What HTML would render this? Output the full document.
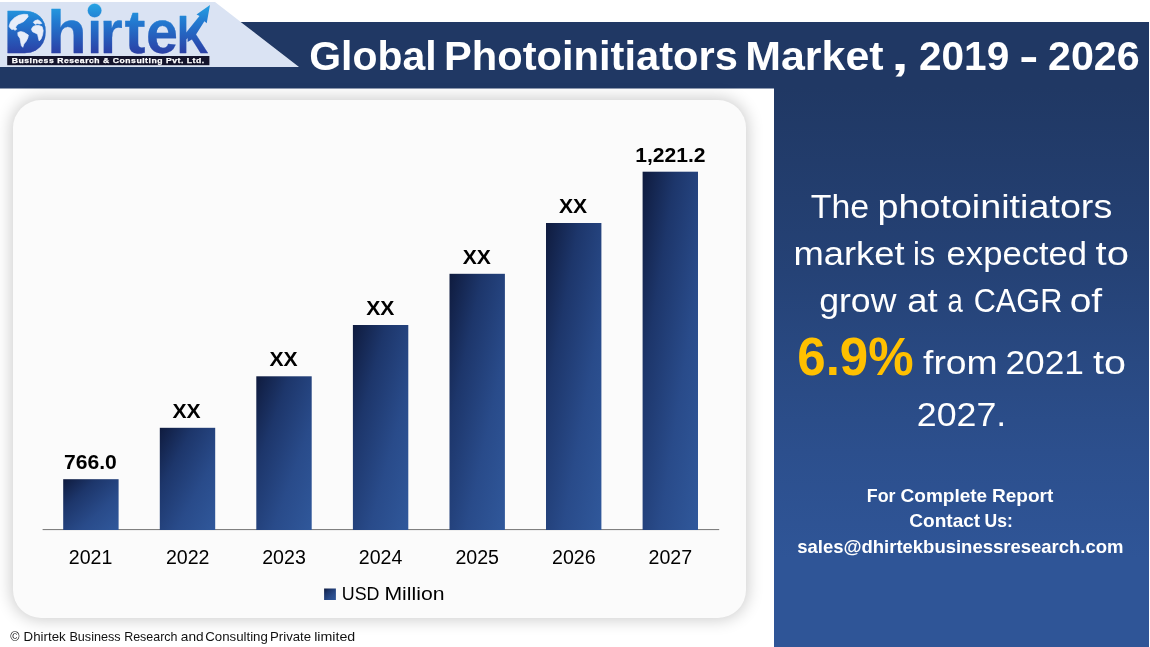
<!DOCTYPE html>
<html lang="en">
<head>
<meta charset="utf-8">
<title>Global Photoinitiators Market, 2019 - 2026</title>
<style>
  html, body { margin: 0; padding: 0; }
  body {
    width: 1150px; height: 647px; position: relative; overflow: hidden;
    background: #ffffff;
    font-family: "Liberation Sans", sans-serif;
  }
  .abs { position: absolute; }
  #lav {
    left: 0; top: 2px; width: 300px; height: 65px; background: #dae3f3;
    clip-path: polygon(0 0, 215px 0, 299px 65px, 0 65px);
  }
  #navy {
    left: 0; top: 21.5px; width: 1149px; height: 67px; background: #203864;
    clip-path: polygon(240px 0, 1149px 0, 1149px 67px, 0 67px, 0 45.5px, 299px 45.5px);
  }
  #side {
    left: 774px; top: 88px; width: 375px; height: 559px;
    background: linear-gradient(180deg, #203864 0%, #254276 33%, #294982 49%, #2c4f8d 65%, #2f5597 84%, #2f5597 100%);
  }
  #panel {
    left: 12.5px; top: 100px; width: 733px; height: 518px;
    background: #fbfbfb; border-radius: 28px;
    box-shadow: 0 0 16px 2px rgba(0,0,0,0.2);
  }
  svg { position: absolute; left: 0; top: 0; }
  text { font-family: "Liberation Sans", sans-serif; }
  .b { font-weight: bold; }
</style>
</head>
<body>
<div id="lav" class="abs"></div>
<div id="navy" class="abs"></div>
<div id="side" class="abs"></div>
<div id="panel" class="abs"></div>

<svg width="1150" height="647" viewBox="0 0 1150 647">
  <defs>
    <linearGradient id="barg" x1="0" y1="0" x2="1" y2="1">
      <stop offset="0" stop-color="#0f1b3e"/>
      <stop offset="0.3" stop-color="#1d366b"/>
      <stop offset="0.65" stop-color="#294b8a"/>
      <stop offset="1" stop-color="#30589b"/>
    </linearGradient>

    <linearGradient id="lg" gradientUnits="userSpaceOnUse" x1="0" y1="5" x2="0" y2="54">
      <stop offset="0" stop-color="#25a0e2"/>
      <stop offset="0.35" stop-color="#2279d0"/>
      <stop offset="1" stop-color="#2b3ea4"/>
    </linearGradient>
  </defs>
  <g id="logo" fill="url(#lg)" stroke="url(#lg)" stroke-width="0.3" stroke-linejoin="round">
    <text class="b" y="52.9" font-size="62"><tspan x="3.6" textLength="44.7" lengthAdjust="spacingAndGlyphs">D</tspan><tspan x="46.9" textLength="39.8" lengthAdjust="spacingAndGlyphs">h</tspan><tspan x="87.2" textLength="14.9" lengthAdjust="spacingAndGlyphs">i</tspan><tspan x="99.7" textLength="23" lengthAdjust="spacingAndGlyphs">r</tspan><tspan x="124.4" textLength="21" lengthAdjust="spacingAndGlyphs">t</tspan><tspan x="146.1" textLength="32" lengthAdjust="spacingAndGlyphs">e</tspan><tspan x="177" textLength="31.3" font-size="54" lengthAdjust="spacingAndGlyphs">K</tspan></text>
    <path d="M13,15 H26 A14,16.5 0 0 1 26,48 H13 Z" stroke="none"/>
    <rect x="88.5" y="5" width="12.5" height="13.5" fill="#dae3f3" stroke="#dae3f3"/>
    <circle cx="94.6" cy="10.5" r="6.8"/>
    <polygon points="210,5 196.5,14.5 200.6,16.4 187.6,33 187.6,42 193.5,38.5 204.4,21.2 206.7,23.2" stroke="none"/>
  </g>
  <g id="globe" fill="#e8edf9" stroke="#e8edf9" stroke-width="0.7" stroke-linejoin="round">
    <polygon points="9.1,26.2 10.6,21.7 14.5,17.8 18.9,15.3 23.9,14.3 27.6,14.5 28.1,16.7 26.2,18.9 23.9,21.4 21.2,22.8 18.4,23.9 16.7,25.4 15.6,27.3 16.7,29.2 15,30.3 13.4,29.2 11.7,29.5 10,27.8"/>
    <polygon points="17.8,32.5 20.6,31.5 23.9,32.3 28.4,35.1 27.8,37.9 26.2,41.2 23.9,44 22.8,47.3 21.4,45.7 20.6,41.8 20,38.4 18,35.4"/>
    <polygon points="33.2,22.3 35.1,20.6 37.9,19.8 40.1,21.2 41.8,23.4 39.5,23.9 37.3,23.6 35.1,24.3"/>
    <polygon points="31.4,29.2 32.9,26.7 35.6,25.4 39,25.6 42.1,26.7 43.2,30.6 42.5,35.1 41,39 39.2,41 38.4,37.9 37.6,34.3 35.1,32.9 32.5,31.7"/>
  </g>
  <rect x="7.2" y="56" width="202.2" height="9.2" fill="#14142c"/>
  <text class="b" x="11.7" y="63.1" font-size="7.2" fill="#ffffff" stroke="#ffffff" stroke-width="0.25" letter-spacing="0.45" textLength="193" lengthAdjust="spacingAndGlyphs">Business Research &amp; Consulting Pvt. Ltd.</text>

  <!-- header title -->
  <text class="b" y="69.6" font-size="41" fill="#ffffff" lengthAdjust="spacingAndGlyphs"><tspan x="309.3" textLength="127.3" lengthAdjust="spacingAndGlyphs">Global</tspan> <tspan x="444" textLength="293.8" lengthAdjust="spacingAndGlyphs">Photoinitiators</tspan> <tspan x="745.2" textLength="138.4" lengthAdjust="spacingAndGlyphs">Market</tspan> <tspan x="891.2" textLength="17.5" lengthAdjust="spacingAndGlyphs">,</tspan> <tspan x="919" textLength="90.2" lengthAdjust="spacingAndGlyphs">2019</tspan> <tspan x="1019.2" textLength="19.1" lengthAdjust="spacingAndGlyphs">-</tspan> <tspan x="1048" textLength="91.7" lengthAdjust="spacingAndGlyphs">2026</tspan></text>

  <!-- chart bars -->
  <rect x="42.6" y="529" width="676.6" height="1.1" fill="#808080"/>
  <g id="bars" fill="url(#barg)">
    <rect x="63.2" y="479.2" width="55.4" height="50.8"/>
    <rect x="159.8" y="427.8" width="55.4" height="102.2"/>
    <rect x="256.3" y="376.3" width="55.4" height="153.7"/>
    <rect x="352.9" y="325.0" width="55.4" height="205.0"/>
    <rect x="449.5" y="273.8" width="55.4" height="256.2"/>
    <rect x="546.0" y="223.0" width="55.4" height="307.0"/>
    <rect x="642.6" y="171.7" width="55.4" height="358.3"/>
  </g>

  <!-- bar value labels -->
  <g class="b" font-size="21.1" fill="#000000" text-anchor="middle">
    <text x="90.4"  y="468.7">766.0</text>
    <text x="186.6" y="418">XX</text>
    <text x="283.6" y="366">XX</text>
    <text x="380.2" y="314.8">XX</text>
    <text x="476.8" y="263.6">XX</text>
    <text x="573.1" y="213">XX</text>
    <text x="670.4" y="161.6">1,221.2</text>
  </g>

  <!-- year labels -->
  <g font-size="19.6" fill="#000000" text-anchor="middle">
    <text x="90.6"  y="564.2">2021</text>
    <text x="187.7" y="564.2">2022</text>
    <text x="284.0" y="564.2">2023</text>
    <text x="380.6" y="564.2">2024</text>
    <text x="477.2" y="564.2">2025</text>
    <text x="573.8" y="564.2">2026</text>
    <text x="670.3" y="564.2">2027</text>
  </g>

  <!-- legend -->
  <rect x="324.1" y="588.5" width="11.8" height="11.5" fill="url(#barg)"/>

  <!-- side text -->
  <text y="217.7" font-size="33.2" fill="#ffffff"><tspan x="810.8" textLength="58.4" lengthAdjust="spacingAndGlyphs">The</tspan> <tspan x="877.5" textLength="234.8" lengthAdjust="spacingAndGlyphs">photoinitiators</tspan></text>
  <text y="264.7" font-size="33.2" fill="#ffffff"><tspan x="793.4" textLength="111.1" lengthAdjust="spacingAndGlyphs">market</tspan> <tspan x="912.9" textLength="22.3" lengthAdjust="spacingAndGlyphs">is</tspan> <tspan x="946.6" textLength="140.5" lengthAdjust="spacingAndGlyphs">expected</tspan> <tspan x="1095.6" textLength="33.4" lengthAdjust="spacingAndGlyphs">to</tspan></text>
  <text y="311.5" font-size="33.2" fill="#ffffff"><tspan x="819.2" textLength="77.2" lengthAdjust="spacingAndGlyphs">grow</tspan> <tspan x="907.2" textLength="30.4" lengthAdjust="spacingAndGlyphs">at</tspan> <tspan x="947.4" textLength="15.3" lengthAdjust="spacingAndGlyphs">a</tspan> <tspan x="973.7" textLength="88.6" lengthAdjust="spacingAndGlyphs">CAGR</tspan> <tspan x="1069.7" textLength="32.5" lengthAdjust="spacingAndGlyphs">of</tspan></text>
  <text y="374.1" font-size="33.2" fill="#ffffff"><tspan x="923.0" textLength="74.7" lengthAdjust="spacingAndGlyphs">from</tspan> <tspan x="1005.5" textLength="78.5" lengthAdjust="spacingAndGlyphs">2021</tspan> <tspan x="1093.0" textLength="33.0" lengthAdjust="spacingAndGlyphs">to</tspan></text>
  <text y="425.6" font-size="33.2" fill="#ffffff"><tspan x="916.8" textLength="89.5" lengthAdjust="spacingAndGlyphs">2027.</tspan></text>
  <text class="b" y="374.8" font-size="53.5" fill="#ffc000"><tspan x="797.3" textLength="116.3" lengthAdjust="spacingAndGlyphs">6.9%</tspan></text>
  <text class="b" y="502.2" font-size="17.8" fill="#ffffff"><tspan x="866.8" textLength="28.7" lengthAdjust="spacingAndGlyphs">For</tspan> <tspan x="900.6" textLength="86.6" lengthAdjust="spacingAndGlyphs">Complete</tspan> <tspan x="991.9" textLength="61.4" lengthAdjust="spacingAndGlyphs">Report</tspan></text>
  <text class="b" y="527.4" font-size="17.8" fill="#ffffff"><tspan x="909.3" textLength="70.9" lengthAdjust="spacingAndGlyphs">Contact</tspan> <tspan x="984.6" textLength="28.3" lengthAdjust="spacingAndGlyphs">Us:</tspan></text>
  <text class="b" y="553.4" font-size="17.8" fill="#ffffff"><tspan x="797.2" textLength="326.3" lengthAdjust="spacingAndGlyphs">sales@dhirtekbusinessresearch.com</tspan></text>
  <text y="641.3" font-size="12.1" fill="#111111"><tspan x="10.2" textLength="9.3" lengthAdjust="spacingAndGlyphs">©</tspan> <tspan x="23.6" textLength="42.1" lengthAdjust="spacingAndGlyphs">Dhirtek</tspan> <tspan x="69.4" textLength="51.2" lengthAdjust="spacingAndGlyphs">Business</tspan> <tspan x="124.2" textLength="53.3" lengthAdjust="spacingAndGlyphs">Research</tspan> <tspan x="180.8" textLength="22.8" lengthAdjust="spacingAndGlyphs">and</tspan> <tspan x="205.2" textLength="62.7" lengthAdjust="spacingAndGlyphs">Consulting</tspan> <tspan x="270.0" textLength="41.1" lengthAdjust="spacingAndGlyphs">Private</tspan> <tspan x="314.2" textLength="41.1" lengthAdjust="spacingAndGlyphs">limited</tspan></text>
  <text y="599.9" font-size="17.6" fill="#000000"><tspan x="341.8" textLength="37.7" lengthAdjust="spacingAndGlyphs">USD</tspan> <tspan x="384.4" textLength="60.1" lengthAdjust="spacingAndGlyphs">Million</tspan></text>
</svg>
</body>
</html>
